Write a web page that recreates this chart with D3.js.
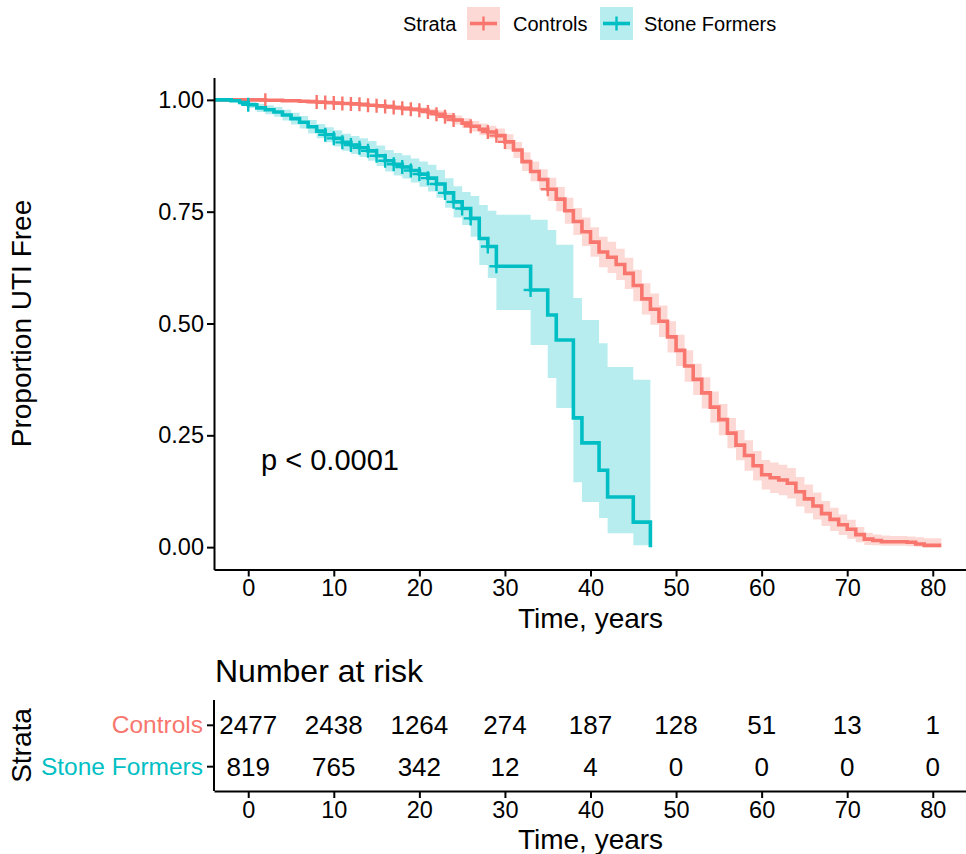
<!DOCTYPE html>
<html>
<head>
<meta charset="utf-8">
<script src="https://cdn.jsdelivr.net/npm/d3@7"></script>
<style>
  body { margin: 0; background: #fff; }
  text { font-family: "Liberation Sans", Arial, sans-serif; }
</style>
</head>
<body>
<div class="chart"></div>
<script>
// ---- data ----
const strata = ["Controls", "Stone Formers"];
const colors = ["#F8766D", "#00BFC4"];

const ctrlTime = [-4, 0, 1, 2, 3, 4, 5, 6, 7, 8, 9, 10, 11, 12, 13, 14, 15, 16, 17, 18, 19, 20,
  21, 22, 23, 24, 25, 26, 27, 28, 29, 30, 31, 32, 33, 34, 35, 36, 37, 38, 39, 40,
  41, 42, 43, 44, 45, 46, 47, 48, 49, 50, 51, 52, 53, 54, 55, 56, 57, 58, 59, 60,
  61, 62, 63, 64, 65, 66, 67, 68, 69, 70, 71, 72, 73, 74, 75, 76, 77, 78, 79, 80, 81];
const ctrlSurv = [1.000, 1.000, 1.000, 0.999, 0.999, 0.998, 0.998, 0.997, 0.996, 0.995, 0.994, 0.993,
  0.992, 0.991, 0.990, 0.988, 0.987, 0.985, 0.983, 0.981, 0.979, 0.977,
  0.973, 0.968, 0.962, 0.955, 0.948, 0.941, 0.934, 0.928, 0.920, 0.906,
  0.888, 0.862, 0.840, 0.822, 0.800, 0.778, 0.752, 0.728, 0.705, 0.682,
  0.660, 0.648, 0.632, 0.612, 0.585, 0.555, 0.532, 0.505, 0.470, 0.440,
  0.405, 0.375, 0.345, 0.313, 0.285, 0.255, 0.228, 0.205, 0.182, 0.162,
  0.155, 0.150, 0.143, 0.124, 0.108, 0.092, 0.075, 0.062, 0.050, 0.040,
  0.028, 0.018, 0.015, 0.012, 0.012, 0.012, 0.011, 0.007, 0.004, 0.004, 0.004];
const ctrlLower = [1.000, 1.000, 0.999, 0.998, 0.998, 0.997, 0.997, 0.995, 0.994, 0.993, 0.992, 0.991,
  0.989, 0.988, 0.987, 0.985, 0.983, 0.980, 0.978, 0.976, 0.974, 0.971,
  0.966, 0.960, 0.953, 0.945, 0.937, 0.929, 0.921, 0.914, 0.904, 0.889,
  0.870, 0.841, 0.818, 0.799, 0.774, 0.751, 0.723, 0.698, 0.673, 0.649,
  0.626, 0.613, 0.597, 0.577, 0.550, 0.520, 0.497, 0.470, 0.435, 0.405,
  0.370, 0.340, 0.310, 0.278, 0.250, 0.221, 0.194, 0.171, 0.149, 0.129,
  0.121, 0.116, 0.109, 0.091, 0.076, 0.062, 0.047, 0.036, 0.027, 0.019,
  0.011, 0.005, 0.004, 0.003, 0.003, 0.003, 0.002, 0.001, 0.000, 0.000, 0.000];
const ctrlUpper = [1.000, 1.000, 1.000, 1.000, 1.000, 0.999, 0.999, 0.999, 0.998, 0.997, 0.996, 0.995,
  0.995, 0.994, 0.993, 0.991, 0.991, 0.990, 0.988, 0.986, 0.984, 0.983,
  0.980, 0.976, 0.971, 0.965, 0.959, 0.953, 0.947, 0.942, 0.936, 0.923,
  0.906, 0.883, 0.862, 0.845, 0.826, 0.805, 0.781, 0.758, 0.737, 0.715,
  0.694, 0.683, 0.667, 0.647, 0.620, 0.590, 0.567, 0.540, 0.505, 0.475,
  0.440, 0.410, 0.380, 0.348, 0.320, 0.289, 0.262, 0.239, 0.215, 0.195,
  0.189, 0.184, 0.177, 0.157, 0.140, 0.122, 0.103, 0.088, 0.073, 0.061,
  0.045, 0.032, 0.028, 0.026, 0.025, 0.025, 0.024, 0.022, 0.020, 0.020, 0.020];
const ctrlCensor = [2, 8, 9, 10, 11, 12, 13, 14, 15, 16, 17, 18, 19, 20, 21, 22, 23, 24, 26, 28, 29, 30, 35];

const stoneTime = [-4, -3, -2, -1, 0, 1, 2, 3, 4, 5, 6, 7, 8, 9, 10, 11, 12, 13, 14, 15, 16, 17,
  18, 19, 20, 21, 22, 23, 24, 25, 26, 27, 28, 29, 30, 31, 32, 33, 34, 35, 36, 37,
  38, 39, 40, 41, 42, 43, 44, 45, 46, 47];
const stoneSurv = [1.000, 1.000, 0.998, 0.994, 0.989, 0.982, 0.978, 0.973, 0.966, 0.958, 0.950, 0.940,
  0.930, 0.922, 0.914, 0.905, 0.899, 0.893, 0.886, 0.875, 0.864, 0.856,
  0.850, 0.842, 0.834, 0.825, 0.812, 0.792, 0.772, 0.757, 0.735, 0.690,
  0.672, 0.628, 0.628, 0.628, 0.628, 0.575, 0.575, 0.519, 0.463, 0.463,
  0.289, 0.233, 0.233, 0.172, 0.112, 0.112, 0.112, 0.056, 0.056, 0.000];
const stoneLower = [1.000, 1.000, 0.995, 0.989, 0.982, 0.973, 0.968, 0.962, 0.954, 0.945, 0.936, 0.925,
  0.914, 0.905, 0.896, 0.886, 0.879, 0.872, 0.864, 0.852, 0.840, 0.831,
  0.824, 0.815, 0.806, 0.795, 0.781, 0.759, 0.737, 0.720, 0.694, 0.631,
  0.602, 0.530, 0.530, 0.530, 0.530, 0.452, 0.452, 0.378, 0.311, 0.311,
  0.145, 0.101, 0.101, 0.065, 0.031, 0.031, 0.031, 0.004, 0.004, 0.004];
const stoneUpper = [1.000, 1.000, 1.000, 0.999, 0.996, 0.991, 0.988, 0.984, 0.978, 0.971, 0.964, 0.955,
  0.946, 0.939, 0.932, 0.924, 0.919, 0.914, 0.908, 0.898, 0.888, 0.881,
  0.876, 0.869, 0.862, 0.855, 0.843, 0.825, 0.807, 0.794, 0.785, 0.765,
  0.752, 0.743, 0.743, 0.743, 0.743, 0.732, 0.732, 0.709, 0.676, 0.676,
  0.557, 0.508, 0.508, 0.456, 0.403, 0.403, 0.403, 0.374, 0.374, 0.374];
const stoneCensor = [0, 9, 10, 11, 12, 13, 14, 15, 16, 17, 18, 19, 20, 21, 22, 23, 24, 25, 26, 28, 29, 33];

const riskTimes = [0, 10, 20, 30, 40, 50, 60, 70, 80];
const ctrlRisk = [2477, 2438, 1264, 274, 187, 128, 51, 13, 1];
const stoneRisk = [819, 765, 342, 12, 4, 0, 0, 0, 0];
const yTicks = [0, 0.25, 0.5, 0.75, 1];

// ---- layout ----
const W = 966, H = 854;
const panel = {left: 214, right: 967, top: 77.5, bottom: 569.5};
const risk = {top: 700, bottom: 791};
const font = '"Liberation Sans", Arial, sans-serif';

const svg = d3.select('.chart')
  .append('svg')
  .attr('width', W)
  .attr('height', H);

const x = d3.scaleLinear().domain([-4, 84]).range([panel.left, panel.right]);
const y = d3.scaleLinear().domain([-0.05, 1.05]).range([panel.bottom, panel.top]);

svg.append('clipPath').attr('id', 'clip')
  .append('rect')
  .attr('x', panel.left).attr('y', panel.top)
  .attr('width', panel.right - panel.left).attr('height', panel.bottom - panel.top);

const groups = [
  {name: strata[0], color: colors[0], time: ctrlTime, surv: ctrlSurv, lo: ctrlLower, hi: ctrlUpper, cens: ctrlCensor},
  {name: strata[1], color: colors[1], time: stoneTime, surv: stoneSurv, lo: stoneLower, hi: stoneUpper, cens: stoneCensor}
];

function survAt(g, t) {
  const i = d3.bisectRight(g.time, t) - 1;
  return g.surv[Math.max(i, 0)];
}

const plot = svg.append('g').attr('clip-path', 'url(#clip)');

const area = d3.area()
  .curve(d3.curveStepAfter)
  .x(d => x(d.t))
  .y0(d => y(d.lo))
  .y1(d => y(d.hi));

const line = d3.line()
  .curve(d3.curveStepAfter)
  .x(d => x(d.t))
  .y(d => y(d.s));

groups.forEach(g => {
  const rows = g.time.map((t, i) => ({t: t, s: g.surv[i], lo: g.lo[i], hi: g.hi[i]}));
  plot.append('path')
    .datum(rows)
    .attr('d', area)
    .attr('fill', g.color)
    .attr('fill-opacity', 0.28);
});

groups.forEach(g => {
  const rows = g.time.map((t, i) => ({t: t, s: g.surv[i]}));
  plot.append('path')
    .datum(rows)
    .attr('d', line)
    .attr('fill', 'none')
    .attr('stroke', g.color)
    .attr('stroke-width', 3.6);

  const marks = plot.append('g').selectAll('g')
    .data(g.cens)
    .join('g')
    .attr('transform', t => `translate(${x(t)},${y(survAt(g, t))})`)
    .attr('stroke', g.color)
    .attr('stroke-width', 2.4);
  marks.append('line').attr('x1', -7).attr('x2', 7);
  marks.append('line').attr('y1', -7).attr('y2', 7);
});

// ---- axes, main panel ----
function styleAxis(sel, size) {
  sel.selectAll('.domain').attr('stroke', '#000').attr('stroke-width', 2);
  sel.selectAll('.tick line').attr('stroke', '#000').attr('stroke-width', 2);
  sel.selectAll('.tick text').attr('fill', '#000').attr('font-size', size).attr('font-family', font);
}

const yAxis = d3.axisLeft(y).tickValues(yTicks).tickFormat(d3.format('.2f'))
  .tickSize(7).tickSizeOuter(0).tickPadding(3);
svg.append('g')
  .attr('transform', `translate(${panel.left},0)`)
  .call(yAxis)
  .call(s => styleAxis(s, 23.5));

const xAxis = d3.axisBottom(x).tickValues(riskTimes)
  .tickSize(7).tickSizeOuter(0).tickPadding(3);
svg.append('g')
  .attr('transform', `translate(0,${panel.bottom})`)
  .call(xAxis)
  .call(s => styleAxis(s, 23.5));

svg.append('text')
  .attr('transform', `translate(31,${(panel.top + panel.bottom) / 2}) rotate(-90)`)
  .attr('text-anchor', 'middle')
  .attr('font-size', 28)
  .text('Proportion UTI Free');

svg.append('text')
  .attr('x', (panel.left + panel.right) / 2)
  .attr('y', 628)
  .attr('text-anchor', 'middle')
  .attr('font-size', 28)
  .text('Time, years');

svg.append('text')
  .attr('x', x(1.5))
  .attr('y', 470)
  .attr('font-size', 29)
  .text('p < 0.0001');

// ---- legend ----
const legend = svg.append('g').attr('font-size', 20);
legend.append('text').attr('x', 403).attr('y', 31).text('Strata');
const keyX = [467, 600], labX = [513, 644];
groups.forEach((g, i) => {
  const k = legend.append('g').attr('transform', `translate(${keyX[i]},7)`);
  k.append('rect').attr('width', 33).attr('height', 33)
    .attr('fill', g.color).attr('fill-opacity', 0.28);
  k.append('line').attr('x1', 3).attr('x2', 30).attr('y1', 16.5).attr('y2', 16.5)
    .attr('stroke', g.color).attr('stroke-width', 3.6);
  k.append('line').attr('x1', 16.5).attr('x2', 16.5).attr('y1', 9.5).attr('y2', 23.5)
    .attr('stroke', g.color).attr('stroke-width', 2.4);
  legend.append('text').attr('x', labX[i]).attr('y', 31).text(g.name);
});

// ---- risk table ----
svg.append('text')
  .attr('x', 215)
  .attr('y', 682)
  .attr('font-size', 32)
  .text('Number at risk');

const ry = d3.scalePoint().domain(strata).range([risk.top, risk.bottom]).padding(0.6);

const riskRows = [ctrlRisk, stoneRisk];
strata.forEach((s, i) => {
  svg.append('g').selectAll('text')
    .data(riskRows[i])
    .join('text')
    .attr('x', (d, j) => x(riskTimes[j]))
    .attr('y', ry(s))
    .attr('dy', '0.36em')
    .attr('text-anchor', 'middle')
    .attr('font-size', 26)
    .text(d => d);
});

const ryAxis = d3.axisLeft(ry).tickSize(7).tickSizeOuter(0).tickPadding(4);
const ryG = svg.append('g')
  .attr('transform', `translate(${panel.left},0)`)
  .call(ryAxis)
  .call(s => styleAxis(s, 24.5));
ryG.select('.domain').attr('d', `M0,${risk.top}V${risk.bottom}`);
ryG.selectAll('.tick text').attr('fill', (d, i) => colors[i]);

svg.append('g')
  .attr('transform', `translate(0,${risk.bottom})`)
  .call(xAxis)
  .call(s => styleAxis(s, 23.5));

svg.append('text')
  .attr('transform', `translate(31,${(risk.top + risk.bottom) / 2}) rotate(-90)`)
  .attr('text-anchor', 'middle')
  .attr('font-size', 28)
  .text('Strata');

svg.append('text')
  .attr('x', (panel.left + panel.right) / 2)
  .attr('y', 849)
  .attr('text-anchor', 'middle')
  .attr('font-size', 28)
  .text('Time, years');
</script>
</body>
</html>
